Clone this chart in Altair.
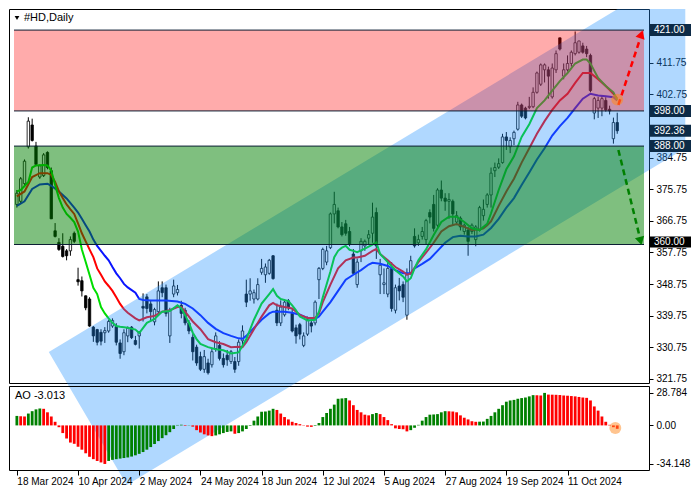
import altair as alt
import pandas as pd

W, H, HA = 640, 374, 84
X0, X1 = -0.75, 164.0
PMIN, PMAX = 320.6, 427.0
AMIN, AMAX = -39.5, 34.9
FONT = "Liberation Sans"

TITLE = "#HD,Daily"
AO_TEXT = "AO -3.013"

opens = [371.4,372.3,377.3,387.8,394.0,388.0,379.2,379.6,386.2,381.0,
         363.9,360.6,359.5,358.2,358.2,363.2,350.0,349.7,345.4,344.5,
         336.5,335.8,335.0,334.9,335.4,336.8,336.7,332.0,329.5,334.0,
         336.5,332.7,334.0,342.4,345.1,343.1,338.0,340.9,347.7,347.7,
         334.0,345.9,346.3,342.7,341.3,337.7,333.6,330.8,328.1,324.5,
         326.3,325.8,330.4,331.3,327.6,328.5,326.7,326.7,326.7,332.6,
         345.9,345.9,344.5,344.5,352.1,351.4,351.8,356.8,341.3,337.7,
         340.0,344.0,340.4,336.3,337.2,331.3,334.5,337.7,337.7,350.0,
         353.2,355.0,359.1,368.7,369.6,365.0,365.9,363.7,357.3,348.6,
         358.2,359.6,361.8,363.2,369.1,351.4,348.6,345.9,353.2,341.3,
         348.2,348.6,339.9,351.8,362.3,360.5,362.3,361.4,369.1,371.4,
         365.5,375.5,373.2,372.3,372.3,366.4,367.5,363.7,364.1,363.7,
         361.4,364.1,368.2,371.4,374.1,381.0,382.0,383.3,390.6,387.8,
         390.1,392.8,399.7,398.8,399.0,399.2,403.3,405.6,409.7,409.7,
         402.0,409.7,418.8,407.9,409.7,411.5,414.3,414.7,416.5,415.6,
         413.8,397.4,398.8,398.8,401.0,398.5,390.1,394.7]
highs = [375.5,379.2,384.2,396.2,395.8,389.2,382.8,386.0,386.5,381.9,
         366.1,361.8,363.2,358.7,362.3,363.7,353.4,350.9,345.5,345.0,
         336.8,336.0,335.9,336.5,338.6,339.0,337.6,333.0,335.9,336.7,
         336.8,334.0,335.4,346.1,345.9,344.1,342.0,349.5,349.5,348.6,
         342.0,350.0,348.5,344.0,342.0,338.5,334.5,331.5,329.5,330.0,
         327.5,330.5,335.0,332.5,329.0,330.0,330.0,328.0,333.0,337.0,
         350.0,350.4,347.2,350.4,355.9,354.6,355.9,357.0,343.2,344.1,
         344.5,344.5,341.8,337.2,337.7,335.0,339.5,338.6,344.1,353.6,
         359.1,359.6,369.1,375.0,370.5,366.4,367.0,365.0,358.7,356.0,
         361.8,361.4,364.1,371.9,370.5,355.9,353.2,355.0,355.0,348.6,
         350.5,349.5,353.2,356.8,364.6,362.8,365.0,367.3,370.0,374.1,
         376.0,378.2,374.6,374.6,372.8,369.5,368.0,366.0,365.0,366.0,
         365.5,371.0,372.8,374.6,381.9,383.3,384.5,391.5,392.0,390.5,
         392.4,400.6,400.1,399.2,402.0,404.7,409.2,411.5,411.5,410.6,
         411.5,415.2,418.8,411.5,413.8,415.2,420.6,418.0,417.4,416.5,
         414.3,402.0,402.0,402.4,401.9,399.5,396.1,397.5]
lows = [370.5,371.8,376.9,387.3,389.3,382.3,378.7,379.2,381.4,367.3,
        362.0,358.2,356.3,355.5,356.8,360.4,348.3,345.2,341.3,336.6,
        332.3,331.3,331.3,332.0,334.9,336.3,331.3,327.5,328.5,332.2,
        333.1,331.3,330.4,338.1,340.4,338.1,337.0,340.4,345.0,339.5,
        332.0,345.0,345.5,339.0,337.0,334.5,327.0,325.5,324.0,323.5,
        323.0,325.0,329.5,327.0,325.0,325.5,326.0,323.5,325.5,331.0,
        342.2,344.0,343.2,344.1,351.4,349.1,351.4,350.0,336.8,336.8,
        339.5,341.3,335.0,331.8,333.0,330.8,334.0,335.0,337.0,344.5,
        352.7,354.1,358.7,366.0,364.6,362.3,362.5,359.5,351.4,347.7,
        355.0,358.2,360.0,360.5,355.9,345.9,345.9,345.0,340.9,340.4,
        344.1,343.6,338.6,351.4,359.1,359.6,361.4,360.0,366.0,363.7,
        365.0,372.3,369.6,367.3,365.5,365.5,364.0,362.8,356.8,363.0,
        359.5,363.7,366.8,370.5,370.5,379.2,381.5,383.0,386.9,386.0,
        388.3,392.4,396.0,395.6,398.5,398.8,402.9,405.1,406.1,401.5,
        401.5,408.8,415.2,407.0,409.2,410.6,413.8,414.3,414.3,413.3,
        403.3,395.6,396.0,396.5,397.8,397.0,388.7,391.5]
closes = [374.6,378.7,383.7,395.1,389.6,382.8,382.4,385.5,381.9,367.3,
          362.3,358.6,356.6,356.8,361.4,360.9,349.4,346.8,342.0,336.8,
          334.0,332.2,332.5,335.5,338.1,338.4,332.2,329.0,334.9,336.2,
          333.5,331.6,335.1,341.9,341.8,340.9,341.5,346.8,346.3,340.4,
          341.3,348.2,347.2,340.4,337.7,335.4,329.5,326.3,324.5,328.1,
          323.5,329.5,334.0,327.6,325.8,327.2,329.5,324.5,332.2,335.4,
          343.6,346.8,346.3,348.6,353.2,353.6,355.5,350.3,337.7,342.2,
          343.6,342.2,335.4,334.0,334.5,334.0,338.6,336.8,343.6,353.2,
          358.6,358.2,368.7,371.4,365.0,362.8,363.2,360.0,351.8,355.0,
          360.9,360.9,362.8,367.8,359.6,354.1,349.1,353.2,341.8,347.7,
          346.8,345.0,351.4,355.4,359.6,361.4,363.7,366.8,367.8,364.6,
          375.5,373.2,372.3,372.8,368.7,368.2,365.0,365.5,360.9,365.5,
          365.0,370.5,370.0,374.1,380.3,381.9,383.0,390.6,389.6,389.6,
          391.9,399.7,396.5,396.0,399.3,403.3,408.8,411.1,411.1,407.9,
          410.2,414.3,415.6,409.7,411.5,414.7,417.4,417.9,414.7,414.3,
          403.8,401.5,401.0,401.5,398.3,398.0,394.7,392.36]

# Alligator lines (bar index, price)
lips_i = [0,1,3,4,5,7,8,9,10,11,12,13,14,15,16,17,18,19,20,21,22,23,24,25,26,27,29,31,32,34,36,38,40,42,43,44,45,46,47,48,50,52,54,56,58,60,62,64,66,67,68,69,71,72,73,74,76,78,79,80,82,83,84,85,86,87,88,89,91,93,94,95,97,99,101,102,103,104,105,107,109,111,113,115,117,119,121,123,124,126,128,130,132,134,136,138,140,142,144,146,148,149,150,152,154,156,157]
lips_p = [375.1,375.5,377.8,381.9,382.5,382.6,382.5,381.0,376.9,373.2,370.5,368.7,367.6,366.4,363.7,358.6,355.0,351.4,347.7,345.9,342.2,340.4,339.0,337.7,336.8,336.6,336.3,335.8,334.8,337.7,338.8,340.9,341.1,342.7,341.8,339.9,337.7,334.9,333.1,331.7,330.8,330.2,329.9,329.0,329.3,333.1,338.6,343.2,345.9,347.3,345.4,344.5,343.9,342.7,341.3,339.5,338.4,338.6,340.9,345.0,352.3,356.4,358.2,359.1,359.6,358.5,358.2,357.8,358.8,360.0,360.6,357.3,355.0,352.7,350.9,349.5,350.4,353.2,355.5,358.6,362.7,366.4,367.9,367.9,366.4,364.6,364.1,365.9,368.9,375.5,381.4,385.1,390.6,394.2,398.8,401.0,403.8,406.5,408.8,411.5,412.6,412.6,411.5,407.4,405.1,403.3,401.2]
teeth_i = [0,2,4,6,8,9,10,11,12,13,14,15,16,17,18,19,20,21,22,23,24,25,26,27,28,29,31,32,34,36,38,40,42,43,44,46,48,50,52,54,56,58,59,60,62,64,66,67,68,70,72,74,76,78,79,80,82,84,86,88,89,91,93,94,95,97,99,101,102,103,105,107,109,111,113,115,117,119,121,122,123,124,126,128,130,132,134,136,138,140,142,144,146,148,150,152,154,156,157]
teeth_p = [373.7,375.1,379.2,380.3,380.3,379.8,377.8,375.1,373.2,371.4,370.0,368.7,366.0,363.2,360.9,358.6,356.4,353.2,351.4,349.5,348.2,346.8,345.0,343.1,341.6,340.6,339.0,338.4,339.3,339.7,340.9,341.3,342.2,342.2,340.9,338.1,335.9,333.1,332.2,331.7,330.8,330.9,330.8,332.2,335.9,339.5,342.7,343.4,342.7,342.2,341.8,340.0,339.1,339.1,340.4,343.6,348.6,353.2,355.5,356.3,356.3,356.8,358.2,358.7,357.3,355.5,353.6,352.3,351.4,351.8,355.0,357.7,360.5,363.7,365.2,365.8,365.0,364.1,364.3,364.6,365.5,366.6,371.0,375.1,378.7,383.3,387.4,391.5,395.1,398.3,401.0,402.9,406.0,408.8,408.8,407.0,405.1,402.9,401.5]
jaw_i = [0,2,4,6,8,9,11,13,15,16,17,18,19,20,21,22,23,24,25,26,27,28,29,31,32,33,35,39,42,44,46,48,50,52,54,56,58,59,60,62,64,66,67,70,72,74,76,78,79,80,82,84,86,88,90,92,93,95,97,99,101,103,104,106,108,110,112,114,116,118,120,122,124,126,128,130,132,134,136,138,140,142,144,146,148,150,152,154,156,157]
jaw_p = [371.0,372.3,375.8,377.1,377.3,376.7,375.1,373.1,370.5,369.1,367.3,365.5,363.7,361.4,359.6,358.2,356.8,355.5,353.6,351.8,350.4,348.8,347.8,346.3,344.5,344.2,344.1,344.1,343.8,343.1,341.8,339.9,337.7,336.0,334.8,334.0,333.3,333.2,334.0,336.3,338.6,340.4,340.9,340.9,340.6,340.0,339.1,338.8,339.5,340.9,343.6,346.8,350.0,351.4,352.7,354.3,354.8,354.5,353.9,352.7,351.8,351.8,353.2,354.5,355.9,358.2,360.5,362.1,362.5,362.3,362.3,362.8,364.7,367.3,370.5,373.2,376.9,380.5,384.2,387.4,391.0,393.7,396.0,398.8,401.5,402.9,402.4,402.2,401.9,401.0]

# Awesome Oscillator bars and their colours (G = green, R = red)
ao_vals = [8.4,8.1,7.9,10.5,12.6,14.2,15.0,14.7,11.6,7.9,
           3.2,-1.6,-6.8,-11.6,-15.2,-16.3,-18.9,-21.5,-24.7,-27.8,
           -29.9,-31.5,-32.8,-34.148,-31.5,-30.5,-29.9,-29.4,-28.9,-28.4,
           -27.6,-26.5,-25.2,-23.6,-21.5,-19.2,-16.5,-13.9,-11.3,-8.7,
           -6.0,-3.2,0.4,0.6,-0.5,-0.2,-1.1,-4.2,-6.3,-7.9,
           -8.9,-9.5,-8.9,-7.9,-6.8,-5.8,-5.3,-7.4,-6.8,-5.3,
           -3.2,-0.5,4.2,7.9,12.1,12.3,13.1,14.7,13.7,10.5,
           7.4,5.3,3.2,2.1,1.1,-0.3,-1.1,-1.3,-0.5,2.1,
           7.4,11.0,14.7,18.4,23.6,23.9,24.2,22.1,17.9,13.7,
           11.6,9.5,8.9,10.0,11.0,10.0,7.4,4.7,1.1,-2.6,
           -3.2,-3.4,-5.3,-4.2,-2.1,0.5,4.2,7.4,9.5,9.7,
           10.0,11.6,12.6,12.5,12.3,11.6,8.9,6.8,5.3,3.7,
           3.2,3.3,3.4,5.8,8.4,11.6,14.7,17.9,21.0,22.1,
           22.6,23.6,24.2,24.7,25.7,26.8,26.7,26.5,28.784,27.3,
           27.2,27.1,26.9,26.5,26.3,26.0,25.7,25.2,24.7,24.4,
           22.1,16.8,13.1,7.9,3.2,0.5,-1.6,-3.013]
ao_colors = ("GRRGGGGRRRRRRRRRRRRRRRRR" + "G" * 18 + "GGRG" + "R" * 6 + "G" * 5 + "R"
             + "G" * 10 + "R" * 10 + "G" * 9 + "R" * 6 + "G" * 2 + "R" * 8 + "G" * 10
             + "R" * 8 + "G" * 15 + "RR" + "G" + "R" * 19)

date_ticks = [0, 16, 32, 48, 64, 80, 96, 112, 128, 144]
date_labels = ["18 Mar 2024", "10 Apr 2024", "2 May 2024", "24 May 2024", "18 Jun 2024",
               "12 Jul 2024", "5 Aug 2024", "27 Aug 2024", "19 Sep 2024", "11 Oct 2024"]
price_ticks = [321.75, 330.75, 339.75, 348.75, 357.75, 366.75, 375.75, 384.75,
               393.75, 402.75, 411.75, 420.75]
# labels hidden behind the price boxes on the right axis
price_hidden = [393.75, 420.75]
ao_ticks = [28.784, 0.0, -34.148]
ao_tick_labels = ["28.784", "0.00", "-34.148"]

# Zones and levels
zone_lo = [398.0, 360.0]
zone_hi = [421.0, 388.0]
zone_col = ["#ff0000", "#008000"]
zone_op = [0.33, 0.5]
levels = [421.0, 398.0, 388.0, 360.0]
box_price = [421.0, 398.0, 392.36, 388.0]
box_text = ["421.00", "398.00", "392.36", "388.00"]
support_price = [360.0]
support_text = ["360.00"]

# Rising channel (bar index, upper price, lower price)
chan_i = [8.35, 28.75, 157.1, 174.8]
chan_top = [329.4, 342.8, 427.0, 427.0]
chan_bot = [329.4, 291.6, 375.8, 387.4]

# Forecast arrows
arrow_i = [157.3, 163.0, 157.3, 162.8]
arrow_p = [399.7, 418.6, 386.9, 362.5]
arrow_id = ["up", "up", "down", "down"]
arrow_col = ["#ff0000", "#ff0000", "#008000", "#008000"]
head_i = [163.3, 163.1]
head_p = [419.8, 361.0]
head_ang = [18, 166]
head_col = ["#ff0000", "#008000"]

xs = alt.Scale(domain=[X0, X1], nice=False, zero=False)
ys = alt.Scale(domain=[PMIN, PMAX], nice=False, zero=False)
ays = alt.Scale(domain=[AMIN, AMAX], nice=False, zero=False)

n = len(opens)
candles = pd.DataFrame({"i": list(range(n)), "o": opens, "h": highs, "l": lows, "c": closes})
candles["fill"] = ["white" if c >= o else "black" for o, c in zip(opens, closes)]

ma = pd.concat([
    pd.DataFrame({"i": jaw_i, "p": jaw_p, "k": "#0a14ff"}),
    pd.DataFrame({"i": teeth_i, "p": teeth_p, "k": "#ff0000"}),
    pd.DataFrame({"i": lips_i, "p": lips_p, "k": "#00dd00"}),
])

hidden_js = "[" + ",".join(str(v) for v in price_hidden) + "]"
yaxis = alt.Axis(orient="right", values=price_ticks,
                 labelExpr=f"indexof({hidden_js}, datum.value) >= 0 ? '' : format(datum.value, '.2f')",
                 grid=False, domain=False,
                 tickSize=4, tickColor="black", labelFont=FONT, labelFontSize=10,
                 labelColor="black", labelPadding=3, title=None)

labels_js = "[" + ",".join("'" + s + "'" for s in date_labels) + "]"
ticks_js = "[" + ",".join(str(t) for t in date_ticks) + "]"
aolab_js = "[" + ",".join("'" + s + "'" for s in ao_tick_labels) + "]"
aotk_js = "[" + ",".join(str(t) for t in ao_ticks) + "]"

xaxis = alt.Axis(values=date_ticks, labelExpr=f"{labels_js}[indexof({ticks_js}, datum.value)]",
                 labelAlign="left", labelFlush=False, labelOverlap=False, grid=False, domain=False,
                 tickSize=5, tickColor="black", labelFont=FONT, labelFontSize=10, labelColor="black",
                 labelPadding=1, title=None)
aoaxis = alt.Axis(orient="right", values=ao_ticks,
                  labelExpr=f"{aolab_js}[indexof({aotk_js}, datum.value)]",
                  grid=False, domain=False, tickSize=4, tickColor="black", labelFont=FONT,
                  labelFontSize=10, labelColor="black", labelPadding=3, title=None)


def PX(field="i"):
    return alt.X(f"{field}:Q", scale=xs, axis=None)


def PY(field):
    return alt.Y(f"{field}:Q", scale=ys, axis=yaxis)


wick = alt.Chart(candles).mark_rule(color="black", strokeWidth=1, clip=True).encode(
    x=PX(), y=PY("l"), y2="h:Q")
body = alt.Chart(candles).mark_bar(size=2.4, stroke="black", strokeWidth=0.8, clip=True).encode(
    x=PX(), y=PY("o"), y2="c:Q", fill=alt.Fill("fill:N", scale=None))
lines = alt.Chart(ma).mark_line(strokeWidth=2, clip=True).encode(
    x=PX(), y=PY("p"), color=alt.Color("k:N", scale=None), detail="k:N")

chan = alt.Chart(pd.DataFrame({"i": chan_i, "t": chan_top, "b": chan_bot})).mark_area(
    color="#1e90ff", opacity=0.35, clip=False).encode(x=PX(), y=PY("t"), y2="b:Q")

zones = alt.Chart(pd.DataFrame({"lo": zone_lo, "hi": zone_hi, "col": zone_col, "op": zone_op,
                                "x0": X0, "x1": X1})).mark_rect(clip=True).encode(
    x=PX("x0"), x2="x1:Q", y=PY("lo"), y2="hi:Q",
    color=alt.Color("col:N", scale=None), opacity=alt.Opacity("op:Q", scale=None))

lvl = alt.Chart(pd.DataFrame({"p": levels, "x0": X0, "x1": X1})).mark_rule(
    color="#0b1e33", strokeWidth=1, clip=True).encode(x=PX("x0"), x2="x1:Q", y=PY("p"))

arrows = alt.Chart(pd.DataFrame({"i": arrow_i, "p": arrow_p, "a": arrow_id, "c": arrow_col})).mark_line(
    strokeDash=[6, 4], strokeWidth=2.5, clip=True).encode(
    x=PX(), y=PY("p"), color=alt.Color("c:N", scale=None), detail="a:N")
heads = alt.Chart(pd.DataFrame({"i": head_i, "p": head_p, "a": head_ang, "c": head_col})).mark_point(
    shape="triangle-up", filled=True, size=90, opacity=1).encode(
    x=PX(), y=PY("p"), color=alt.Color("c:N", scale=None), angle=alt.Angle("a:Q", scale=None))

dot = alt.Chart(pd.DataFrame({"i": [157.0], "p": [401.2]})).mark_circle(
    size=140, color="#ff8a1f", opacity=0.55).encode(x=PX(), y=PY("p"))

boxes = alt.Chart(pd.DataFrame({"p": box_price})).mark_rect(
    yOffset=-6, y2Offset=6, color="#0d2b47").encode(
    x=alt.value(W + 1), x2=alt.value(W + 42), y=PY("p"), y2="p:Q")
boxtxt = alt.Chart(pd.DataFrame({"p": box_price, "t": box_text})).mark_text(
    align="left", baseline="middle", color="white", font=FONT, fontSize=10).encode(
    x=alt.value(W + 5), y=PY("p"), text="t:N")
sbox = alt.Chart(pd.DataFrame({"p": support_price})).mark_rect(
    yOffset=-8, y2Offset=3, color="#000000").encode(
    x=alt.value(W + 1), x2=alt.value(W + 42), y=PY("p"), y2="p:Q")
sboxtxt = alt.Chart(pd.DataFrame({"p": support_price, "t": support_text})).mark_text(
    align="left", baseline="middle", color="white", font=FONT, fontSize=10, dy=-2.5).encode(
    x=alt.value(W + 5), y=PY("p"), text="t:N")

tri = alt.Chart(pd.DataFrame({"t": [TITLE]})).mark_point(
    shape="triangle-down", filled=True, size=22, color="black", opacity=1).encode(
    x=alt.value(8), y=alt.value(9))
title = alt.Chart(pd.DataFrame({"t": [TITLE]})).mark_text(
    align="left", baseline="middle", font=FONT, fontSize=11, color="black").encode(
    x=alt.value(15), y=alt.value(9), text="t:N")

main = alt.layer(wick, body, lines, chan, zones, lvl, arrows, heads, dot,
                 boxes, boxtxt, sbox, sboxtxt, tri, title).properties(width=W, height=H)

ao_df = pd.DataFrame({"i": list(range(len(ao_vals))), "v": ao_vals,
                      "c": ["#008000" if ch == "G" else "#ff0000" for ch in ao_colors]})

AX = alt.X("i:Q", scale=xs, axis=xaxis)

aobars = alt.Chart(ao_df).mark_bar(size=2.8).encode(
    x=AX, y=alt.Y("v:Q", scale=ays, axis=aoaxis), y2=alt.datum(0),
    color=alt.Color("c:N", scale=None))
aodot = alt.Chart(pd.DataFrame({"i": [156.5], "v": [-2.3]})).mark_circle(
    size=140, color="#ff8a1f", opacity=0.5).encode(
    x=AX, y=alt.Y("v:Q", scale=ays, axis=aoaxis))
aotxt = alt.Chart(pd.DataFrame({"t": [AO_TEXT]})).mark_text(
    align="left", baseline="top", font=FONT, fontSize=11, color="black").encode(
    x=alt.value(6), y=alt.value(4), text="t:N")

ao = alt.layer(aobars, aodot, aotxt).properties(width=W, height=HA)

chart = alt.vconcat(main, ao, spacing=3, bounds="flush").resolve_scale(
    x="independent", y="independent").properties(
    padding={"left": 0, "top": 0, "right": 0, "bottom": 0}, background="white"
).configure_view(stroke="black", strokeWidth=1)

chart.save("out.html", embed_options={"renderer": "svg", "actions": False})
